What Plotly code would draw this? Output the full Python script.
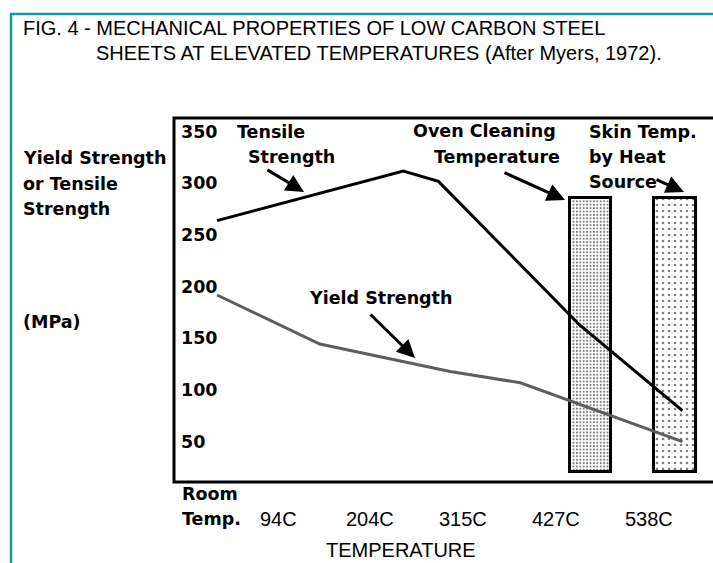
import plotly.graph_objects as go

# ---------------- data ----------------
room_temp_c = 21
temp_tick_c = [94, 204, 315, 427, 538]
temp_tick_labels = ["94C", "204C", "315C", "427C", "538C"]
strength_ticks = [50, 100, 150, 200, 250, 300, 350]

tensile_temp_c = [21, 244, 286, 455, 578]
tensile_mpa = [264, 312, 302, 163, 80]

yield_temp_c = [21, 144, 300, 384, 578]
yield_mpa = [192, 144.5, 118, 107, 50]

oven_band_c = [444, 493]     # oven cleaning temperature band
skin_band_c = [544, 594]     # skin temperature by heat source band
band_mpa = [21, 286]         # drawn height of the bands

# ---------------- layout geometry ----------------
W, H = 713, 563
ML, MT, MR, MB = 174, 118, 0, 81
PW, PH = W - ML - MR, H - MT - MB
X_RANGE = [-30.5, 614.6]
Y_RANGE = [11.0, 363.3]


def pxx(x):
    return (x - ML) / PW


def pxy(y):
    return (H - MB - y) / PH


BOLD = dict(family="DejaVu Sans", size=17.5, color="black", weight="bold")
PLAIN = dict(family="Liberation Sans, Arial", size=20, color="black")
TEAL = "#109c9c"

fig = go.Figure()

# bands
for band, sz, sol in [(oven_band_c, 3.4, 0.3), (skin_band_c, 6.0, 0.16)]:
    fig.add_trace(go.Bar(
        x=[(band[0] + band[1]) / 2], y=[band_mpa[1] - band_mpa[0]], base=[band_mpa[0]],
        width=[band[1] - band[0]],
        marker=dict(color="white", line=dict(color="black", width=3),
                    pattern=dict(shape=".", size=sz, solidity=sol,
                                 fgcolor="black", bgcolor="white")),
        showlegend=False, hoverinfo="skip"))

# curves
fig.add_trace(go.Scatter(x=yield_temp_c, y=yield_mpa, mode="lines",
                         line=dict(color="#5e5e5e", width=3), showlegend=False))
fig.add_trace(go.Scatter(x=tensile_temp_c, y=tensile_mpa, mode="lines",
                         line=dict(color="black", width=3), showlegend=False))

ann = []


def text(t, x, y, font=BOLD, xanchor="left", xref="paper", yref="paper"):
    ann.append(dict(text=t, x=x, y=y, xref=xref, yref=yref, xanchor=xanchor,
                    yanchor="middle", showarrow=False, font=font, borderpad=0))


# title
text("FIG. 4 - MECHANICAL PROPERTIES OF LOW CARBON STEEL", pxx(22), pxy(28), PLAIN)
text("SHEETS AT ELEVATED TEMPERATURES (After Myers, 1972).", pxx(95), pxy(53), PLAIN)

# y axis title
for t, yy in [("Yield Strength", 158), ("or Tensile", 184), ("Strength", 209), ("(MPa)", 322)]:
    text(t, pxx(22), pxy(yy))

# y tick labels (inside the box)
for v in strength_ticks:
    text(str(v), pxx(180), v, BOLD, yref="y")

# x tick labels
text("Room", pxx(181), pxy(494))
text("Temp.", pxx(181), pxy(519))
for c, lab in zip(temp_tick_c, temp_tick_labels):
    ann.append(dict(text=lab, x=c, y=pxy(519), xref="x", yref="paper", xanchor="center",
                    yanchor="middle", showarrow=False, font=PLAIN, borderpad=0))
text("TEMPERATURE", pxx(325), pxy(550), PLAIN)

# in-plot labels
for t, xx, yy in [("Tensile", 236, 131.7), ("Strength", 247, 156.7),
                  ("Oven Cleaning", 412, 130.7), ("Temperature", 433, 156.7),
                  ("Skin Temp.", 588, 131.7), ("by Heat", 588, 156.7), ("Source", 588, 181.7),
                  ("Yield Strength", 308, 298)]:
    text(t, pxx(xx), pxy(yy))

# arrows (tail -> head, pixel positions)
for (tx, ty), (hx, hy) in [((266, 169), (304, 192)), ((369, 313), (415, 358)),
                           ((503, 172), (565, 200)), ((655, 179), (684, 192))]:
    ann.append(dict(text="", x=pxx(hx), y=pxy(hy), xref="paper", yref="paper",
                    ax=tx - hx, ay=ty - hy, showarrow=True, arrowhead=2, arrowsize=1.2,
                    arrowwidth=3, arrowcolor="black"))

shapes = [
    # teal frame
    dict(type="rect", xref="paper", yref="paper", x0=pxx(11), x1=pxx(730), y0=pxy(14), y1=pxy(580),
         line=dict(color=TEAL, width=2.5), layer="below"),
    # plot box
    dict(type="rect", xref="paper", yref="paper", x0=0, x1=pxx(730), y0=0, y1=1,
         line=dict(color="black", width=3)),
]

fig.update_layout(
    width=W, height=H, autosize=False,
    margin=dict(l=ML, r=MR, t=MT, b=MB, pad=0),
    paper_bgcolor="white", plot_bgcolor="white",
    barmode="overlay", bargap=0,
    xaxis=dict(range=X_RANGE, showgrid=False, zeroline=False, showticklabels=False,
               ticks="", showline=False, fixedrange=True),
    yaxis=dict(range=Y_RANGE, showgrid=False, zeroline=False, showticklabels=False,
               ticks="", showline=False, fixedrange=True),
    annotations=ann, shapes=shapes, showlegend=False,
)

fig.write_html("out.html", config={"displayModeBar": False},
               post_script="document.body.style.margin='0';document.body.style.overflow='hidden';")
